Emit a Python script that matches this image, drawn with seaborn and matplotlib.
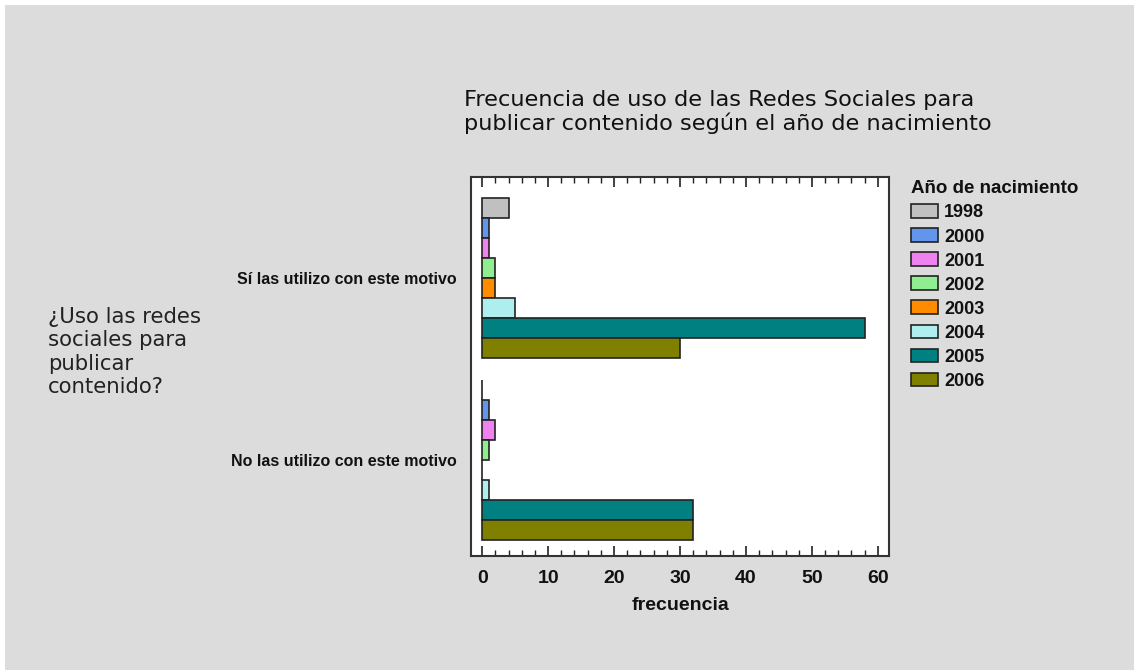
import pandas as pd
import matplotlib.pyplot as plt
import seaborn as sns
from matplotlib.patches import Rectangle
from matplotlib.ticker import MultipleLocator

# categories and values
respuestas = ["Sí las utilizo con este motivo", "No las utilizo con este motivo"]
anios = ["1998", "2000", "2001", "2002", "2003", "2004", "2005", "2006"]
frec_si = [4, 1, 1, 2, 2, 5, 58, 30]
frec_no = [0, 1, 2, 1, 0, 1, 32, 32]
colores = ["#c0c0c0", "#6495ed", "#ee82ee", "#90ee90",
           "#ff8c00", "#afeeee", "#008080", "#808000"]

df = pd.DataFrame({
    "respuesta": [respuestas[0]] * len(anios) + [respuestas[1]] * len(anios),
    "anio": anios + anios,
    "frecuencia": frec_si + frec_no,
})

sns.set_theme(style="white")
plt.rcParams["font.family"] = ["Liberation Sans", "DejaVu Sans"]
plt.rcParams["text.color"] = "#111111"
plt.rcParams["xtick.color"] = "#111111"
plt.rcParams["ytick.color"] = "#111111"
plt.rcParams["axes.labelcolor"] = "#111111"

bg = "#dcdcdc"
fig = plt.figure(figsize=(11.34, 6.70), dpi=100, facecolor="white")
# grey panel with a thin white margin top/left, as in the source image
fig.patches.append(Rectangle((0.0044, -0.02), 1.02, 1.0125, transform=fig.transFigure,
                             facecolor=bg, edgecolor="none", zorder=-10))

ax = fig.add_axes([0.4153, 0.170, 0.3687, 0.5658])
ax.set_facecolor("white")

sns.barplot(data=df, y="respuesta", x="frecuencia", hue="anio",
            hue_order=anios, order=respuestas, palette=colores,
            saturation=1, orient="h", width=0.88, gap=0,
            edgecolor="#222222", linewidth=1.2, ax=ax)

ax.set_xlim(-1.7, 61.7)
ax.set_ylim(1.527, -0.555)
ax.xaxis.set_major_locator(MultipleLocator(10))
ax.xaxis.set_minor_locator(MultipleLocator(2))
ax.tick_params(axis="x", which="major", direction="in", length=7, width=1.2,
               top=True, bottom=True, labelsize=14, pad=10, color="#222222")
ax.tick_params(axis="x", which="minor", direction="in", length=4, width=1.0,
               top=True, bottom=True, color="#222222")
ax.tick_params(axis="y", length=0, labelsize=11.5, pad=10)
for lab in ax.get_xticklabels() + ax.get_yticklabels():
    lab.set_fontweight("bold")

for sp in ax.spines.values():
    sp.set_visible(True)
    sp.set_color("#333333")
    sp.set_linewidth(1.5)

ax.set_xlabel("frecuencia", fontsize=14, fontweight="bold", labelpad=7)
ax.set_ylabel("")

fig.text(0.042, 0.4746, "¿Uso las redes\nsociales para\npublicar\ncontenido?",
         fontsize=15.3, family="DejaVu Sans", color="#222222",
         va="center", ha="left", linespacing=1.22)

fig.text(0.409, 0.8, "Frecuencia de uso de las Redes Sociales para\npublicar contenido según el año de nacimiento",
         fontsize=16.2, family="DejaVu Sans", color="#111111",
         va="bottom", ha="left", linespacing=1.15)

leg = ax.legend(title="Año de nacimiento", loc="upper left",
                bbox_to_anchor=(1.035, 1.01), frameon=False,
                prop={"weight": "bold", "size": 13},
                handlelength=1.5, handleheight=0.8, handletextpad=0.35,
                labelspacing=0.38, borderaxespad=0)
leg.get_title().set_fontweight("bold")
leg.get_title().set_fontsize(13.5)
leg._legend_box.align = "left"

fig.savefig("out.png", dpi=100, facecolor="white")
